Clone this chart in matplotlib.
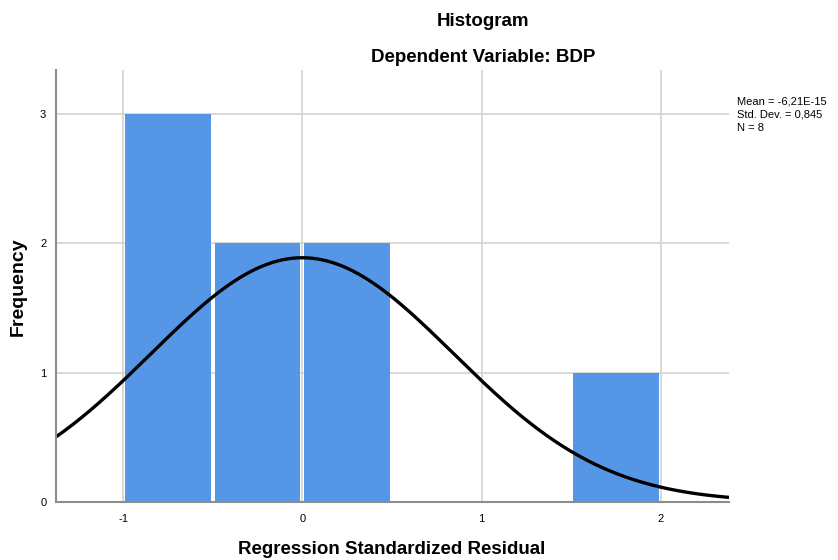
import numpy as np
import matplotlib
matplotlib.use("Agg")
import matplotlib.pyplot as plt

plt.rcParams['font.family'] = ['Liberation Sans', 'DejaVu Sans']

bin_edges = [-1.0, -0.5, 0.0, 0.5, 1.0, 1.5, 2.0]
counts = [3, 2, 2, 0, 0, 1]
mean = -6.21e-15
std = 0.845
n = 8
bin_width = 0.5
xticks = [-1, 0, 1, 2]
yticks = [0, 1, 2, 3]

fig = plt.figure(figsize=(8.38, 5.6), dpi=100)
ax = fig.add_axes([56/838, 1-502/560, (729-56)/838, (502-70)/560])
ax.set_xlim(-1.374, 2.38)
ax.set_ylim(0, 3.34)

ax.grid(True, color='#d2d2d2', linewidth=1.2, zorder=0)
ax.set_axisbelow(True)

inset = 0.011
lefts = [e + inset for e in bin_edges[:-1]]
ax.bar(lefts, counts, width=bin_width - 2*inset, align='edge', color='#5596e6',
       edgecolor='none', linewidth=0, zorder=2)

xs = np.linspace(-1.374, 2.38, 400)
ys = n * bin_width / (std * np.sqrt(2*np.pi)) * np.exp(-0.5*((xs-mean)/std)**2)
ax.plot(xs, ys, color='black', linewidth=2.4, zorder=3)

for s in ['top', 'right']:
    ax.spines[s].set_visible(False)
for s in ['left', 'bottom']:
    ax.spines[s].set_color('#8c8c8c')
    ax.spines[s].set_linewidth(1.5)
    ax.spines[s].set_zorder(4)

ax.set_xticks(xticks)
ax.set_xticklabels(['-1', '0', '1', '2'])
ax.set_yticks(yticks)
ax.tick_params(axis='x', length=0, labelsize=8, pad=9)
ax.tick_params(axis='y', length=0, labelsize=8, pad=7)

fig.text(483/838, 1-22/560, 'Histogram', ha='center', va='center',
         fontsize=13.5, fontweight='bold')
fig.text(483/838, 1-58/560, 'Dependent Variable: BDP', ha='center', va='center',
         fontsize=13.5, fontweight='bold')
fig.text(392/838, 1-550/560, 'Regression Standardized Residual', ha='center',
         va='center', fontsize=13.5, fontweight='bold')
fig.text(18/838, 1-287/560, 'Frequency', ha='center', va='center',
         fontsize=14, fontweight='bold', rotation=90)
for i, line in enumerate(['Mean = -6,21E-15', 'Std. Dev. = 0,845', 'N = 8']):
    fig.text(737/838, 1-(102 + 13*i)/560, line, ha='left', va='center',
             fontsize=8)

fig.savefig('out.png', dpi=100)
